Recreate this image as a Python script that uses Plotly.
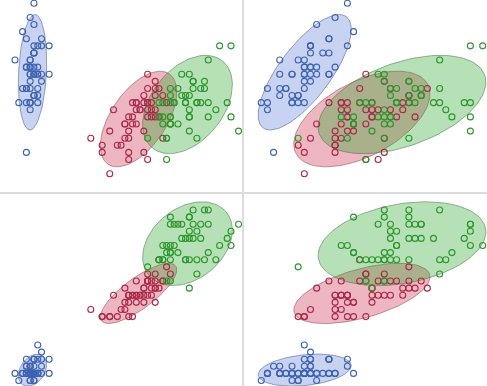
import numpy as np
import plotly.graph_objects as go

# Iris data (Fisher), read as in the chart
sepal_length = [5.1,4.9,4.7,4.6,5.0,5.4,4.6,5.0,4.4,4.9,5.4,4.8,4.8,4.3,5.8,5.7,5.4,5.1,5.7,5.1,5.4,5.1,4.6,5.1,4.8,5.0,5.0,5.2,5.2,4.7,4.8,5.4,5.2,5.5,4.9,5.0,5.5,4.9,4.4,5.1,5.0,4.5,4.4,5.0,5.1,4.8,5.1,4.6,5.3,5.0,
                7.0,6.4,6.9,5.5,6.5,5.7,6.3,4.9,6.6,5.2,5.0,5.9,6.0,6.1,5.6,6.7,5.6,5.8,6.2,5.6,5.9,6.1,6.3,6.1,6.4,6.6,6.8,6.7,6.0,5.7,5.5,5.5,5.8,6.0,5.4,6.0,6.7,6.3,5.6,5.5,5.5,6.1,5.8,5.0,5.6,5.7,5.7,6.2,5.1,5.7,
                6.3,5.8,7.1,6.3,6.5,7.6,4.9,7.3,6.7,7.2,6.5,6.4,6.8,5.7,5.8,6.4,6.5,7.7,7.7,6.0,6.9,5.6,7.7,6.3,6.7,7.2,6.2,6.1,6.4,7.2,7.4,7.9,6.4,6.3,6.1,7.7,6.3,6.4,6.0,6.9,6.7,6.9,5.8,6.8,6.7,6.7,6.3,6.5,6.2,5.9]
sepal_width = [3.5,3.0,3.2,3.1,3.6,3.9,3.4,3.4,2.9,3.1,3.7,3.4,3.0,3.0,4.0,4.4,3.9,3.5,3.8,3.8,3.4,3.7,3.6,3.3,3.4,3.0,3.4,3.5,3.4,3.2,3.1,3.4,4.1,4.2,3.1,3.2,3.5,3.6,3.0,3.4,3.5,2.3,3.2,3.5,3.8,3.0,3.8,3.2,3.7,3.3,
               3.2,3.2,3.1,2.3,2.8,2.8,3.3,2.4,2.9,2.7,2.0,3.0,2.2,2.9,2.9,3.1,3.0,2.7,2.2,2.5,3.2,2.8,2.5,2.8,2.9,3.0,2.8,3.0,2.9,2.6,2.4,2.4,2.7,2.7,3.0,3.4,3.1,2.3,3.0,2.5,2.6,3.0,2.6,2.3,2.7,3.0,2.9,2.9,2.5,2.8,
               3.3,2.7,3.0,2.9,3.0,3.0,2.5,2.9,2.5,3.6,3.2,2.7,3.0,2.5,2.8,3.2,3.0,3.8,2.6,2.2,3.2,2.8,2.8,2.7,3.3,3.2,2.8,3.0,2.8,3.0,2.8,3.8,2.8,2.8,2.6,3.0,3.4,3.1,3.0,3.1,3.1,3.1,2.7,3.2,3.3,3.0,2.5,3.0,3.4,3.0]
petal_length = [1.4,1.4,1.3,1.5,1.4,1.7,1.4,1.5,1.4,1.5,1.5,1.6,1.4,1.1,1.2,1.5,1.3,1.4,1.7,1.5,1.7,1.5,1.0,1.7,1.9,1.6,1.6,1.5,1.4,1.6,1.6,1.5,1.5,1.4,1.5,1.2,1.3,1.4,1.3,1.5,1.3,1.3,1.3,1.6,1.9,1.4,1.6,1.4,1.5,1.4,
                4.7,4.5,4.9,4.0,4.6,4.5,4.7,3.3,4.6,3.9,3.5,4.2,4.0,4.7,3.6,4.4,4.5,4.1,4.5,3.9,4.8,4.0,4.9,4.7,4.3,4.4,4.8,5.0,4.5,3.5,3.8,3.7,3.9,5.1,4.5,4.5,4.7,4.4,4.1,4.0,4.4,4.6,4.0,3.3,4.2,4.2,4.2,4.3,3.0,4.1,
                6.0,5.1,5.9,5.6,5.8,6.6,4.5,6.3,5.8,6.1,5.1,5.3,5.5,5.0,5.1,5.3,5.5,6.7,6.9,5.0,5.7,4.9,6.7,4.9,5.7,6.0,4.8,4.9,5.6,5.8,6.1,6.4,5.6,5.1,5.6,6.1,5.6,5.5,4.8,5.4,5.6,5.1,5.1,5.9,5.7,5.2,5.0,5.2,5.4,5.1]
petal_width = [0.2,0.2,0.2,0.2,0.2,0.4,0.3,0.2,0.2,0.1,0.2,0.2,0.1,0.1,0.2,0.4,0.4,0.3,0.3,0.3,0.2,0.4,0.2,0.5,0.2,0.2,0.4,0.2,0.2,0.2,0.2,0.4,0.1,0.2,0.2,0.2,0.2,0.1,0.2,0.2,0.3,0.3,0.2,0.6,0.4,0.3,0.2,0.2,0.2,0.2,
               1.4,1.5,1.5,1.3,1.5,1.3,1.6,1.0,1.3,1.4,1.0,1.5,1.0,1.4,1.3,1.4,1.5,1.0,1.5,1.1,1.8,1.3,1.5,1.2,1.3,1.4,1.4,1.7,1.5,1.0,1.1,1.0,1.2,1.6,1.5,1.6,1.5,1.3,1.3,1.3,1.2,1.4,1.2,1.0,1.3,1.2,1.3,1.3,1.1,1.3,
               2.5,1.9,2.1,1.8,2.2,2.1,1.7,1.8,1.8,2.5,2.0,1.9,2.1,2.0,2.4,2.3,1.8,2.2,2.3,1.5,2.3,2.0,2.0,1.8,2.1,1.8,1.8,1.8,2.1,1.6,1.9,2.0,2.2,1.5,1.4,2.3,2.4,1.8,1.8,2.1,2.4,2.3,1.9,2.3,2.5,2.3,1.9,2.0,2.3,1.8]
species = ["setosa"] * 50 + ["versicolor"] * 50 + ["virginica"] * 50
species_names = ["setosa", "versicolor", "virginica"]

point_colors = {"setosa": "rgb(62,98,178)", "versicolor": "rgb(170,40,72)", "virginica": "rgb(42,150,42)"}
fill_colors = {"setosa": "rgba(70,110,210,0.3)", "versicolor": "rgba(205,40,70,0.34)", "virginica": "rgba(40,165,40,0.34)"}
edge_colors = {"setosa": "rgba(60,80,140,0.5)", "versicolor": "rgba(130,60,75,0.5)", "virginica": "rgba(60,110,60,0.5)"}

W, H = 487, 386
# panels: (row, col, x values, y values)
panels = [
    (1, 1, petal_length, sepal_width),
    (1, 2, sepal_length, sepal_width),
    (2, 1, petal_length, petal_width),
    (2, 2, sepal_length, petal_width),
]
x_dom = {1: [0, 242 / W], 2: [244 / W, 1]}
y_dom = {1: [1 - 192 / H, 1], 2: [0, 1 - 194 / H]}
x_rng = {1: [0.604, 6.99], 2: [4.019, 7.97]}
y_rng = {1: [1.742, 4.446], 2: [0.023, 2.725]}

K = np.sqrt(-2 * np.log(0.1))  # 90% confidence ellipse

fig = go.Figure()
layout = {}
for i, (r, c, xs, ys) in enumerate(panels):
    idx = "" if i == 0 else str(i + 1)
    xa, ya = "x" + idx, "y" + idx
    xs = np.array(xs)
    ys = np.array(ys)
    sp = np.array(species)
    for s in species_names:
        m = sp == s
        px, py = xs[m], ys[m]
        cov = np.cov(px, py)
        vals, vecs = np.linalg.eigh(cov)
        t = np.linspace(0, 2 * np.pi, 121)
        circ = np.vstack([np.cos(t), np.sin(t)])
        pts = vecs @ (np.sqrt(vals)[:, None] * circ) * K
        ex = pts[0] + px.mean()
        ey = pts[1] + py.mean()
        fig.add_trace(go.Scatter(x=ex, y=ey, mode="lines", fill="toself",
                                 fillcolor=fill_colors[s],
                                 line=dict(color=edge_colors[s], width=1),
                                 hoverinfo="skip", showlegend=False,
                                 xaxis=xa, yaxis=ya))
    for s in species_names:
        m = sp == s
        fig.add_trace(go.Scatter(x=xs[m], y=ys[m], mode="markers",
                                 marker=dict(symbol="circle-open", size=6,
                                             color=point_colors[s],
                                             line=dict(width=1.1)),
                                 name=s, showlegend=False,
                                 xaxis=xa, yaxis=ya))
    xkey = "xaxis" + idx
    ykey = "yaxis" + idx
    layout[xkey] = dict(domain=x_dom[c], range=x_rng[c], anchor=ya,
                        showgrid=False, zeroline=False, showticklabels=False,
                        ticks="", showline=True, linecolor="#dcdcdc", linewidth=1,
                        side="bottom" if r == 1 else "top")
    layout[ykey] = dict(domain=y_dom[r], range=y_rng[r], anchor=xa,
                        showgrid=False, zeroline=False, showticklabels=False,
                        ticks="", showline=True, linecolor="#dcdcdc", linewidth=1,
                        side="right" if c == 1 else "left")

fig.update_layout(width=W, height=H, margin=dict(l=0, r=0, t=0, b=0),
                  paper_bgcolor="white", plot_bgcolor="white",
                  showlegend=False, **layout)
fig.write_html("out.html", config={"displayModeBar": False},
               post_script="document.body.style.margin='0';document.body.style.overflow='hidden';")
